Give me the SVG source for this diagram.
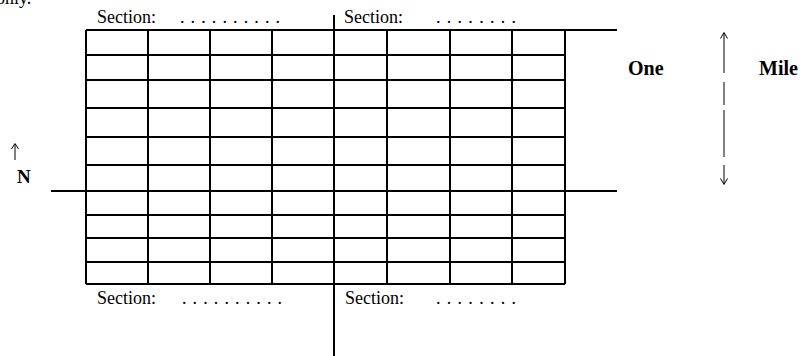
<svg xmlns="http://www.w3.org/2000/svg" width="804" height="356" viewBox="0 0 804 356">
<style>
.ln{stroke:#000;stroke-width:2;fill:none}
.thin{stroke:#000;stroke-width:1;fill:none}
.t{font-family:"Liberation Serif","Times New Roman",serif;font-size:18px;fill:#000}
.b{font-family:"Liberation Serif","Times New Roman",serif;font-size:20px;font-weight:bold;fill:#000}
</style>
<rect width="804" height="356" fill="#fff"/>
<text class="t" x="-4" y="4">only.</text>
<g id="grid">
<path class="ln" d="M86 30V284M148 30V284M210 30V284M272 30V284M387 30V284M450 30V284M512 30V284M565 30V284"/>
<path class="ln" d="M86 30H617M86 55H565M86 80H565M86 108H565M86 137H565M86 165H565M51 191H617M86 215H565M86 238H565M86 262H565M86 284H565"/>
<path class="ln" d="M334 15V356"/>
</g>
<g id="labels">
<text class="t" x="97" y="23">Section:</text>
<text class="t" x="180" y="23" textLength="100" lengthAdjust="spacing">. . . . . . . . . .</text>
<text class="t" x="344" y="23">Section:</text>
<text class="t" x="436" y="23" textLength="80" lengthAdjust="spacing">. . . . . . . .</text>
<text class="t" x="97" y="304">Section:</text>
<text class="t" x="182" y="304" textLength="100" lengthAdjust="spacing">. . . . . . . . . .</text>
<text class="t" x="345" y="304">Section:</text>
<text class="t" x="436" y="304" textLength="80" lengthAdjust="spacing">. . . . . . . .</text>
</g>
<g id="north">
<path class="thin" d="M15 144V160M11.5 149L15 143.5L18.5 149"/>
<text class="b" x="17" y="183" style="font-size:19px">N</text>
</g>
<g id="scale">
<text class="b" x="628" y="75">One</text>
<text class="b" x="759" y="75">Mile</text>
<path class="thin" d="M724 33V73M720.5 38.5L724 32.5L727.5 38.5"/>
<path class="thin" d="M724 82V105M724 110V157"/>
<path class="thin" d="M724 165V184M720.5 178.5L724 184.5L727.5 178.5"/>
</g>
</svg>
